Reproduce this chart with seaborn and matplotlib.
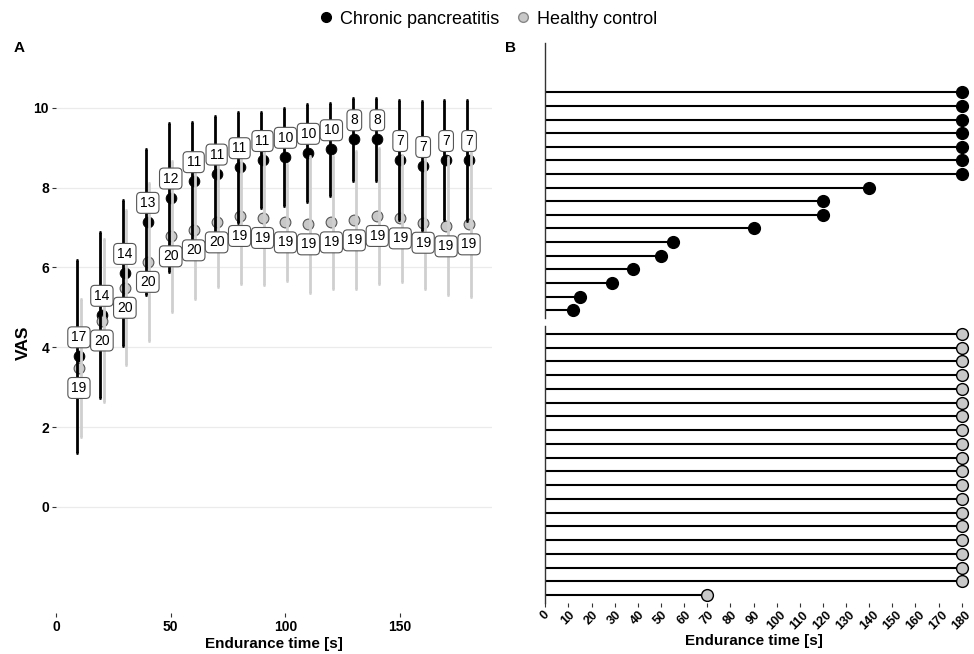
import numpy as np
import pandas as pd
import matplotlib
matplotlib.use("Agg")
import matplotlib.pyplot as plt
from matplotlib.lines import Line2D
import seaborn as sns

sns.set_theme(style="white")
plt.rcParams['font.family'] = ['Liberation Sans', 'DejaVu Sans']
plt.rcParams['text.color'] = 'black'
plt.rcParams['axes.labelcolor'] = 'black'
plt.rcParams['xtick.color'] = 'black'
plt.rcParams['ytick.color'] = 'black'

# ---------------- data ----------------
time = [10, 20, 30, 40, 50, 60, 70, 80, 90, 100, 110, 120, 130, 140, 150, 160, 170, 180]
cp_mean = [3.77, 4.81, 5.86, 7.14, 7.75, 8.16, 8.35, 8.51, 8.69, 8.77, 8.87, 8.96, 9.21, 9.21, 8.69, 8.54, 8.69, 8.69]
cp_sd = [2.42, 2.08, 1.84, 1.82, 1.86, 1.48, 1.45, 1.39, 1.20, 1.24, 1.22, 1.17, 1.04, 1.04, 1.50, 1.63, 1.51, 1.52]
cp_n = [17, 14, 14, 13, 12, 11, 11, 11, 11, 10, 10, 10, 8, 8, 7, 7, 7, 7]
hc_mean = [3.48, 4.67, 5.49, 6.14, 6.78, 6.93, 7.13, 7.29, 7.24, 7.13, 7.08, 7.13, 7.18, 7.29, 7.23, 7.12, 7.03, 7.08]
hc_sd = [1.74, 2.05, 1.94, 1.99, 1.90, 1.72, 1.63, 1.71, 1.67, 1.47, 1.71, 1.67, 1.73, 1.71, 1.59, 1.67, 1.73, 1.82]
hc_n = [19, 20, 20, 20, 20, 20, 20, 19, 19, 19, 19, 19, 19, 19, 19, 19, 19, 19]

cp_endurance = [180, 180, 180, 180, 180, 180, 180, 140, 120, 120, 90, 55, 50, 38, 29, 15, 12]
hc_endurance = [180, 180, 180, 180, 180, 180, 180, 180, 180, 180,
                180, 180, 180, 180, 180, 180, 180, 180, 180, 70]

groups = ["Chronic pancreatitis", "Healthy control"]
B_ticks = [0, 10, 20, 30, 40, 50, 60, 70, 80, 90, 100, 110, 120, 130, 140, 150, 160, 170, 180]

CP_COL = "black"
HC_COL = "#c8c8c8"
HC_BAR = "#cfcfcf"

W, H = 974, 654
fig = plt.figure(figsize=(W / 100, H / 100), dpi=100)


def rect(l, t, r, b):
    return [l / W, 1 - b / H, (r - l) / W, (b - t) / H]


# ---------------- panel A ----------------
axA = fig.add_axes(rect(56, 72, 492, 613))
dfA = pd.DataFrame({"time": time * 2, "mean": cp_mean + hc_mean, "sd": cp_sd + hc_sd,
                    "n": cp_n + hc_n,
                    "group": [groups[0]] * len(time) + [groups[1]] * len(time)})
cp = dfA[dfA.group == groups[0]]
hc = dfA[dfA.group == groups[1]]

sns.scatterplot(data=cp, x="time", y="mean", color=CP_COL, edgecolor=CP_COL, s=60,
                linewidth=0.6, ax=axA, legend=False, zorder=2)
sns.scatterplot(data=hc, x="time", y="mean", color=HC_COL, edgecolor="#555555", s=60,
                linewidth=0.8, ax=axA, legend=False, zorder=2)
axA.errorbar(hc["time"] + 0.7, hc["mean"], yerr=hc["sd"], fmt="none", ecolor=HC_BAR,
             elinewidth=2.0, capsize=1.0, capthick=2.0, zorder=3)
axA.errorbar(cp["time"] - 0.7, cp["mean"], yerr=cp["sd"], fmt="none", ecolor=CP_COL,
             elinewidth=2.0, capsize=1.0, capthick=2.0, zorder=3)

box = dict(boxstyle="round,pad=0.25,rounding_size=0.3", fc="white", ec="#555555", lw=0.8)
for t, m, n in zip(cp["time"], cp["mean"], cp["n"]):
    axA.text(t, m + 0.48, str(n), ha="center", va="center", fontsize=10, bbox=box, zorder=5)
for t, m, n in zip(hc["time"], hc["mean"], hc["n"]):
    axA.text(t, m - 0.50, str(n), ha="center", va="center", fontsize=10, bbox=box, zorder=5)

axA.set_xlim(0, 190)
axA.set_ylim(-2.66, 10.9)
axA.set_xticks([0, 50, 100, 150])
axA.set_yticks([0, 2, 4, 6, 8, 10])
for s in axA.spines.values():
    s.set_visible(False)
axA.yaxis.grid(True, color="#ebebeb", lw=0.9)
axA.xaxis.grid(False)
axA.set_axisbelow(True)
axA.tick_params(axis="both", length=3, width=0.8, color="#333333", labelsize=10,
                pad=2, labelcolor="black", bottom=True, left=True)
for lab in axA.get_xticklabels() + axA.get_yticklabels():
    lab.set_fontweight("bold")
axA.set_xlabel("Endurance time [s]", fontsize=11, fontweight="bold", labelpad=2)
axA.set_ylabel("VAS", fontsize=12.5, fontweight="bold", labelpad=2)

# ---------------- panel B ----------------
axB1 = fig.add_axes(rect(545.3, 43.3, 961.7, 318.3))
axB2 = fig.add_axes(rect(545.3, 325.7, 961.7, 603.3))

for ax, vals, fc, ec in [(axB1, cp_endurance, CP_COL, CP_COL), (axB2, hc_endurance, HC_COL, "black")]:
    pos = np.arange(len(vals))[::-1]
    d = pd.DataFrame({"id": pos, "time": vals})
    ax.hlines(d["id"], 0, d["time"], color="black", lw=1.5, zorder=2)
    sns.scatterplot(data=d, x="time", y="id", color=fc, edgecolor=ec, s=72, linewidth=1.0,
                    ax=ax, legend=False, zorder=3, clip_on=False)
    ax.set_xlim(0, 180)
    ax.set_ylim(-0.6, 19.6)
    for k, s in ax.spines.items():
        s.set_visible(k == "left")
    ax.spines["left"].set_color("#333333")
    ax.spines["left"].set_linewidth(1.0)
    ax.set_yticks([])
    ax.set_ylabel("")
    ax.set_xlabel("")
    ax.grid(False)

axB1.set_xticks([])
axB2.set_xticks(B_ticks)
axB2.set_xticklabels([str(v) for v in B_ticks], rotation=45, ha="center", va="top",
                     fontsize=9, fontweight="bold")
axB2.tick_params(axis="x", length=3, width=0.8, color="#333333", pad=1, bottom=True)
axB2.set_xlabel("Endurance time [s]", fontsize=11, fontweight="bold", labelpad=1)

# ---------------- annotations / legend ----------------
fig.text(19 / W, 1 - 48.5 / H, "A", fontsize=11, fontweight="bold", ha="center", va="center")
fig.text(510 / W, 1 - 48.5 / H, "B", fontsize=11, fontweight="bold", ha="center", va="center")

handles = [Line2D([], [], marker="o", ls="none", color=CP_COL, markersize=7),
           Line2D([], [], marker="o", ls="none", markerfacecolor=HC_COL,
                  markeredgecolor="#888888", markersize=7)]
fig.legend(handles, groups, loc="center", bbox_to_anchor=(487 / W, 1 - 19 / H), ncol=2,
           frameon=False, fontsize=13, handletextpad=0.3, columnspacing=0.8,
           handlelength=1.0, borderpad=0.1)

fig.savefig("out.png", dpi=100)
